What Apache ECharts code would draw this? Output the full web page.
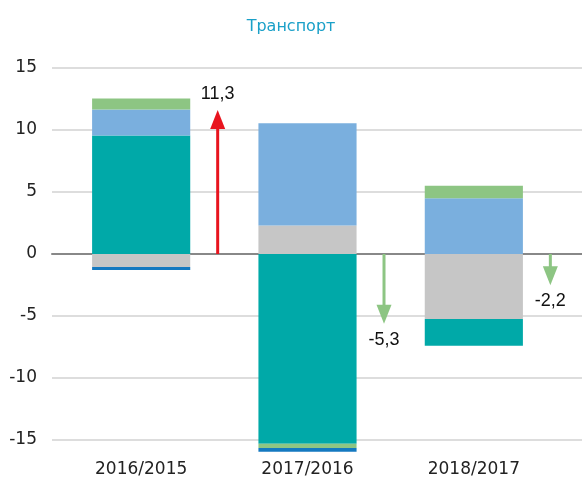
<!DOCTYPE html>
<html>
<head>
<meta charset="utf-8">
<script src="https://cdn.jsdelivr.net/npm/echarts@6/dist/echarts.min.js"></script>
<style>
  html, body { margin: 0; padding: 0; background: #fff; }
  #chart { width: 582px; height: 486px; }
</style>
</head>
<body>
<div id="chart"></div>
<script>
// categories and stacked components
const categories = ['2016/2015', '2017/2016', '2018/2017'];
const grayVals = [-1.05, 2.3, -5.25];
const tealVals = [9.55, -15.3, -2.15];
const blueVals = [2.1, 8.25, 4.5];
const greenVals = [0.9, -0.35, 1.0];
const darkBlueVals = [-0.25, -0.3, 0];
// net change arrows
const totals = [11.3, -5.3, -2.2];
const totalLabels = ['11,3', '-5,3', '-2,2'];
const yTicks = [-15, -10, -5, 0, 5, 10, 15];

const chart = echarts.init(document.getElementById('chart'));

const labelFont = 'DejaVu Sans';
const GRID_TOP = 68, GRID_BOTTOM = 46;

function barSeries(name, data, color) {
    return {
        name: name,
        type: 'bar',
        xAxisIndex: 1,
        yAxisIndex: 1,
        stack: 'total',
        barWidth: '59%',
        clip: false,
        itemStyle: { color: color },
        data: data
    };
}

const option = {
    animation: false,
    title: {
        text: 'Транспорт',
        left: 'center',
        top: 14,
        textStyle: { color: '#1aa0c8', fontSize: 16, fontWeight: 'normal', fontFamily: labelFont }
    },
    grid: [
        { left: 52, right: 0, top: GRID_TOP, bottom: GRID_BOTTOM },
        { left: 58, right: 25, top: GRID_TOP, bottom: GRID_BOTTOM }
    ],
    xAxis: [
        {
            gridIndex: 0,
            type: 'value',
            min: 0, max: 1,
            axisLine: { onZero: true, lineStyle: { color: '#888', width: 2 } },
            axisTick: { show: false },
            axisLabel: { show: false },
            splitLine: { show: false }
        },
        {
            gridIndex: 1,
            type: 'category',
            data: categories,
            axisLine: { show: false },
            axisTick: { show: false },
            axisLabel: { margin: 21, fontSize: 17, color: '#222', fontFamily: labelFont }
        }
    ],
    yAxis: [
        {
            gridIndex: 0,
            type: 'value',
            min: yTicks[0], max: yTicks[yTicks.length - 1], interval: 5,
            axisLine: { show: false },
            axisTick: { show: false },
            axisLabel: { margin: 15, fontSize: 17, color: '#222', fontFamily: labelFont },
            splitLine: { lineStyle: { color: '#dddddd', width: 2 } }
        },
        {
            gridIndex: 1,
            type: 'value',
            min: yTicks[0], max: yTicks[yTicks.length - 1], interval: 5,
            show: false,
            splitLine: { show: false }
        }
    ],
    series: [
        barSeries('gray', grayVals, '#c6c6c6'),
        barSeries('teal', tealVals, '#00a9a8'),
        barSeries('blue', blueVals, '#7aafde'),
        barSeries('green', greenVals, '#8dc583'),
        barSeries('darkblue', darkBlueVals, '#1479c0'),
        {
            type: 'custom',
            xAxisIndex: 1,
            yAxisIndex: 1,
            clip: false,
            z: 5,
            data: totals.map((v, i) => [i, v]),
            renderItem: (params, api) => {
                const idx = api.value(0);
                const val = api.value(1);
                const band = api.size([1, 0])[0];
                const p0 = api.coord([idx, 0]);
                const p1 = api.coord([idx, val]);
                const x = p0[0] + band * 0.46;
                const dir = val >= 0 ? -1 : 1; // screen direction
                const tipY = p1[1] + dir * 4;
                const headLen = 19, headW = 7.5;
                const color = val >= 0 ? '#e8141e' : '#8dc583';
                return {
                    type: 'group',
                    children: [
                        {
                            type: 'line',
                            shape: { x1: x, y1: p0[1], x2: x, y2: tipY - dir * (headLen - 2) },
                            style: { stroke: color, lineWidth: 3 }
                        },
                        {
                            type: 'polygon',
                            shape: { points: [[x, tipY], [x - headW, tipY - dir * headLen], [x + headW, tipY - dir * headLen]] },
                            style: { fill: color }
                        },
                        {
                            type: 'text',
                            style: {
                                text: totalLabels[params.dataIndex],
                                x: x,
                                y: tipY + dir * 16,
                                align: 'center',
                                verticalAlign: 'middle',
                                fill: '#111',
                                fontSize: 18,
                                fontFamily: 'Liberation Sans'
                            }
                        }
                    ]
                };
            }
        }
    ]
};

chart.setOption(option);
</script>
</body>
</html>
